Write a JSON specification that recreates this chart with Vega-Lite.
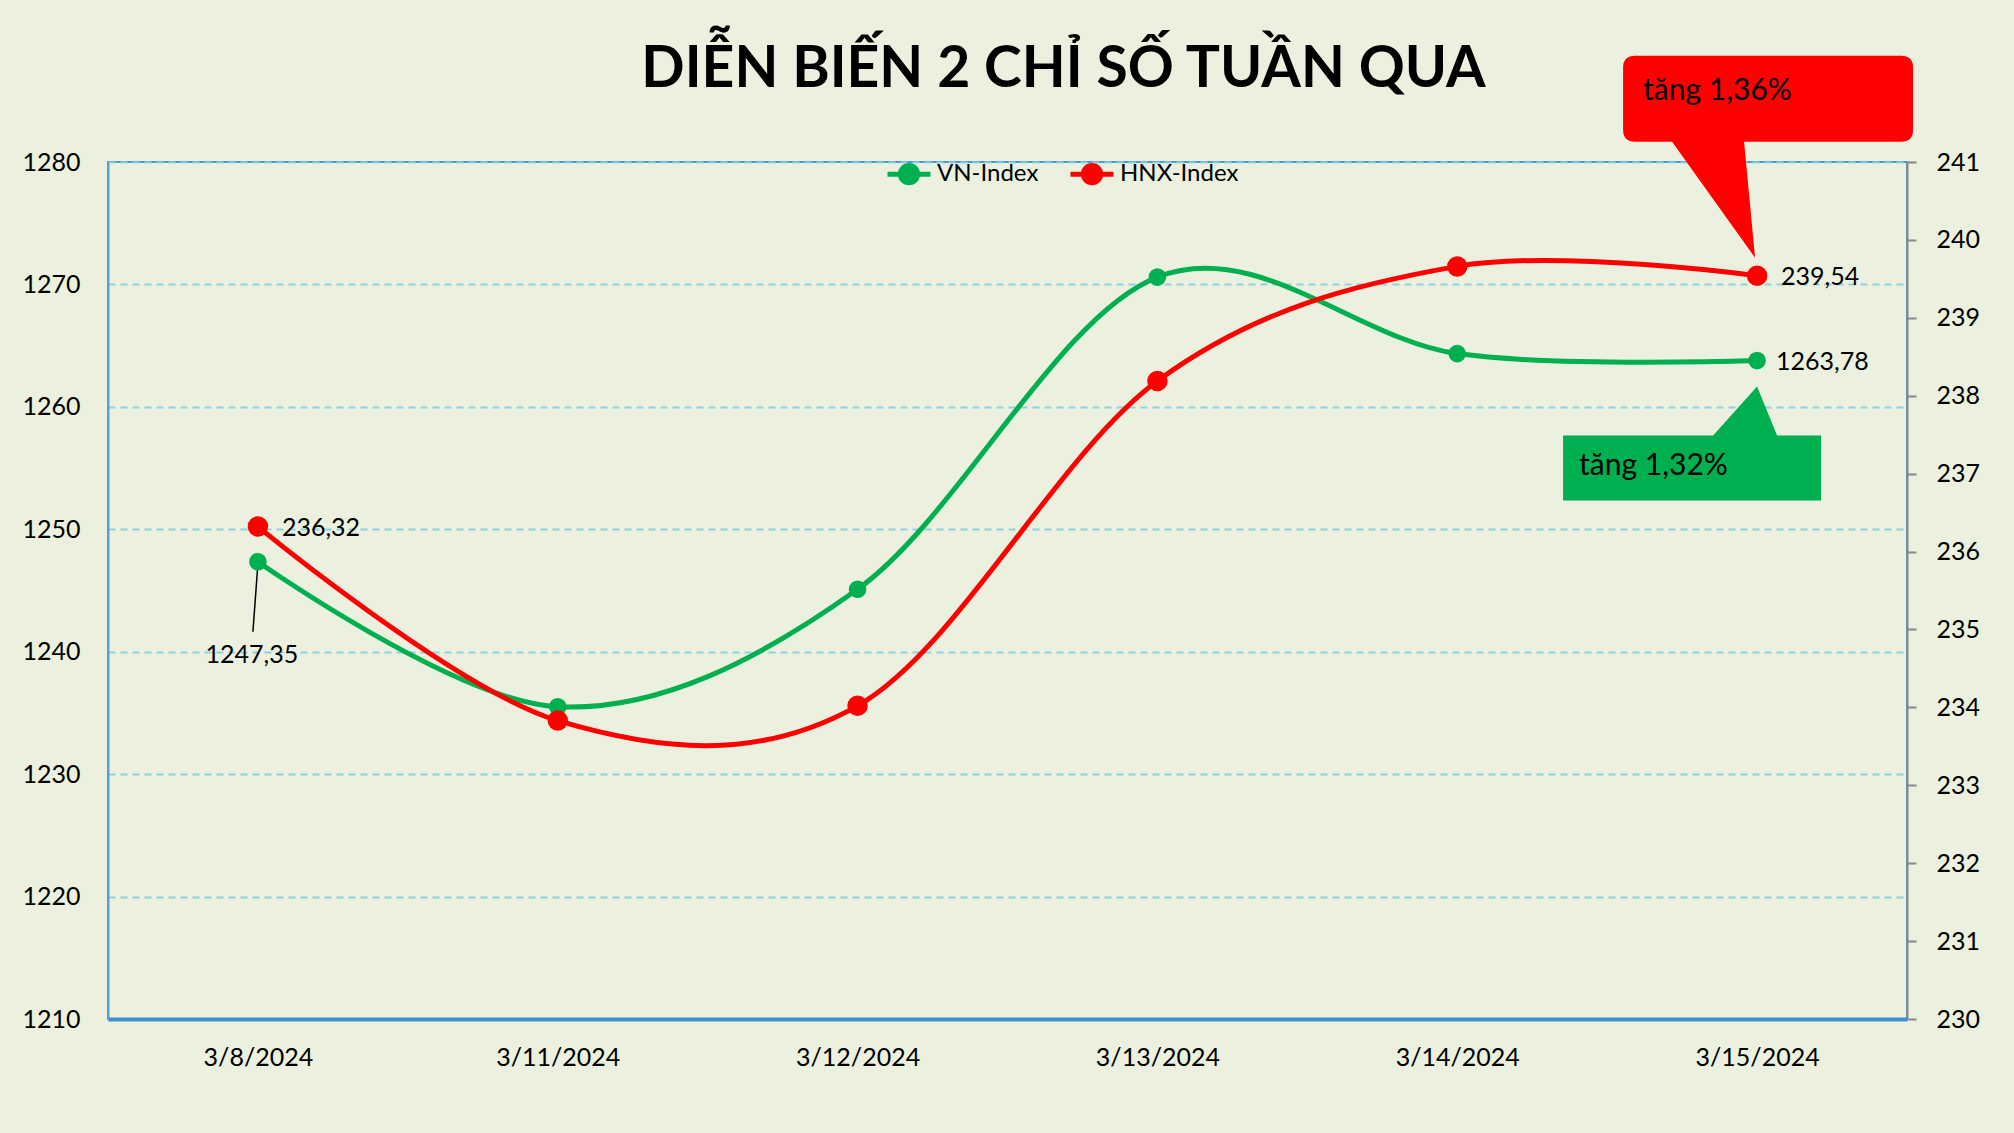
{
  "$schema": "https://vega.github.io/schema/vega-lite/v6.json",
  "width": 1799,
  "height": 857,
  "autosize": {"type": "none"},
  "padding": {"left": 108, "top": 162, "right": 107, "bottom": 114},
  "background": "#EBF1DE",
  "title": {
    "text": "DIỄN BIẾN 2 CHỈ SỐ TUẦN QUA",
    "font": "Lato",
    "fontSize": 57,
    "fontWeight": "bold",
    "color": "black",
    "anchor": "middle",
    "frame": "group",
    "baseline": "alphabetic",
    "offset": 0,
    "dy": 88,
    "dx": 56
  },
  "data": {
    "values": [
      {"date": "3/8/2024", "index": "VN-Index", "value": 1247.35},
      {"date": "3/11/2024", "index": "VN-Index", "value": 1235.5},
      {"date": "3/12/2024", "index": "VN-Index", "value": 1245.1},
      {"date": "3/13/2024", "index": "VN-Index", "value": 1270.6},
      {"date": "3/14/2024", "index": "VN-Index", "value": 1264.35},
      {"date": "3/15/2024", "index": "VN-Index", "value": 1263.78, "note": "tăng 1,32%"},
      {"date": "3/8/2024", "index": "HNX-Index", "value": 236.32},
      {"date": "3/11/2024", "index": "HNX-Index", "value": 233.83},
      {"date": "3/12/2024", "index": "HNX-Index", "value": 234.02},
      {"date": "3/13/2024", "index": "HNX-Index", "value": 238.19},
      {"date": "3/14/2024", "index": "HNX-Index", "value": 239.66},
      {"date": "3/15/2024", "index": "HNX-Index", "value": 239.54, "note": "tăng 1,36%"}
    ]
  },
  "encoding": {
    "x": {
      "field": "date",
      "type": "ordinal",
      "sort": null,
      "scale": {"type": "point", "padding": 0.5, "domain": ["3/8/2024", "3/11/2024", "3/12/2024", "3/13/2024", "3/14/2024", "3/15/2024"]},
      "axis": {
        "title": null,
        "labelAngle": 0,
        "labelFont": "Lato",
        "labelFontSize": 25,
        "labelColor": "black",
        "labelPadding": 26,
        "ticks": false,
        "grid": false,
        "domainColor": "#3D8FCB",
        "domainWidth": 4
      }
    }
  },
  "layer": [
    {
      "transform": [{"filter": "datum.index == 'VN-Index'"}],
      "encoding": {
        "y": {
          "field": "value",
          "type": "quantitative",
          "scale": {"domain": [1210, 1280], "zero": false, "nice": false},
          "axis": {
            "title": null,
            "orient": "left",
            "values": [1210, 1220, 1230, 1240, 1250, 1260, 1270, 1280],
            "format": "d",
            "labelFont": "Lato",
            "labelFontSize": 25,
            "labelColor": "black",
            "labelPadding": 28,
            "ticks": false,
            "grid": true,
            "gridColor": "#8FD0E3",
            "gridDash": [7, 5],
            "gridWidth": 2,
            "domainColor": "#5AA2D4",
            "domainWidth": 2
          }
        }
      },
      "layer": [
        {
          "transform": [{"filter": "datum.date == '3/15/2024'"}],
          "mark": {
            "type": "point",
            "shape": "M-194,75L-44,75L0,26L20,75L64,75L64,140L-194,140Z",
            "size": 4,
            "filled": true,
            "color": "#00B050",
            "opacity": 1,
            "strokeWidth": 0
          }
        },
        {
          "transform": [{"filter": "datum.date == '3/15/2024'"}],
          "mark": {
            "type": "text",
            "align": "left",
            "baseline": "alphabetic",
            "dx": -178,
            "dy": 114,
            "font": "Lato",
            "fontSize": 30,
            "color": "black"
          },
          "encoding": {"text": {"field": "note"}}
        },
        {
          "mark": {
            "type": "line",
            "interpolate": "cardinal",
            "tension": 0,
            "strokeWidth": 5
          },
          "encoding": {
            "color": {
              "field": "index",
              "type": "nominal",
              "scale": {"domain": ["VN-Index", "HNX-Index"], "range": ["#00B050", "#FF0000"]},
              "legend": {
                "title": null,
                "orient": "none",
                "direction": "horizontal",
                "legendX": 777,
                "legendY": -12,
                "padding": 0,
                "symbolType": "M-1,0L1,0M0.4,0C0.4,0.221,0.221,0.4,0,0.4C-0.221,0.4,-0.4,0.221,-0.4,0C-0.4,-0.221,-0.221,-0.4,0,-0.4C0.221,-0.4,0.4,-0.221,0.4,0Z",
                "symbolSize": 1849,
                "symbolStrokeWidth": 5,
                "labelFont": "Lato",
                "labelFontSize": 24,
                "labelColor": "black",
                "labelOffset": 4,
                "columnPadding": 21,
                "encode": {
                  "symbols": {
                    "update": {
                      "fill": {"scale": "color", "field": "value"},
                      "stroke": {"scale": "color", "field": "value"},
                      "opacity": {"value": 1}
                    }
                  }
                }
              }
            }
          }
        },
        {
          "transform": [{"filter": "datum.date == '3/8/2024'"}],
          "mark": {
            "type": "point",
            "shape": "M0,2L-5,70",
            "size": 4,
            "filled": false,
            "color": "black",
            "strokeWidth": 1.5,
            "opacity": 1
          }
        },
        {
          "mark": {"type": "point", "filled": true, "size": 310, "color": "#00B050", "opacity": 1}
        },
        {
          "transform": [{"filter": "datum.date == '3/15/2024'"}],
          "mark": {"type": "text", "align": "left", "baseline": "middle", "dx": 19, "dy": 1, "font": "Lato", "fontSize": 25, "color": "black"},
          "encoding": {"text": {"field": "value", "type": "quantitative", "format": ".2f"}}
        },
        {
          "transform": [{"filter": "datum.date == '3/8/2024'"}],
          "mark": {"type": "text", "align": "center", "baseline": "middle", "dx": -6, "dy": 93, "font": "Lato", "fontSize": 25, "color": "black"},
          "encoding": {"text": {"field": "value", "type": "quantitative", "format": ".2f"}}
        }
      ]
    },
    {
      "transform": [{"filter": "datum.index == 'HNX-Index'"}],
      "encoding": {
        "y": {
          "field": "value",
          "type": "quantitative",
          "scale": {"domain": [230, 241], "zero": false, "nice": false},
          "axis": {
            "title": null,
            "orient": "right",
            "values": [230, 231, 232, 233, 234, 235, 236, 237, 238, 239, 240, 241],
            "format": "d",
            "labelFont": "Lato",
            "labelFontSize": 25,
            "labelColor": "black",
            "labelPadding": 20,
            "ticks": true,
            "tickSize": 9,
            "tickColor": "#888888",
            "tickWidth": 2,
            "grid": false,
            "domainColor": "#888888",
            "domainWidth": 2
          }
        }
      },
      "layer": [
        {
          "transform": [{"filter": "datum.date == '3/15/2024'"}],
          "mark": {
            "type": "point",
            "shape": "M-122,-220L144,-220Q156,-220,156,-208L156,-146Q156,-134,144,-134L-13,-134L-2,-18L-85,-134L-122,-134Q-134,-134,-134,-146L-134,-208Q-134,-220,-122,-220Z",
            "size": 4,
            "filled": true,
            "color": "#FF0000",
            "opacity": 1,
            "strokeWidth": 0
          }
        },
        {
          "transform": [{"filter": "datum.date == '3/15/2024'"}],
          "mark": {
            "type": "text",
            "align": "left",
            "baseline": "alphabetic",
            "dx": -114,
            "dy": -176,
            "font": "Lato",
            "fontSize": 30,
            "color": "black"
          },
          "encoding": {"text": {"field": "note"}}
        },
        {
          "mark": {
            "type": "line",
            "interpolate": "cardinal",
            "tension": 0,
            "strokeWidth": 5,
            "color": "#FF0000"
          },
          "encoding": {}
        },
        {
          "mark": {"type": "point", "filled": true, "size": 420, "color": "#FF0000", "opacity": 1}
        },
        {
          "transform": [{"filter": "datum.date == '3/8/2024' || datum.date == '3/15/2024'"}],
          "mark": {"type": "text", "align": "left", "baseline": "middle", "dx": 24, "dy": 1, "font": "Lato", "fontSize": 25, "color": "black"},
          "encoding": {"text": {"field": "value", "type": "quantitative", "format": ".2f"}}
        }
      ]
    }
  ],
  "resolve": {"scale": {"y": "independent"}},
  "config": {
    "view": {"stroke": "#4A9CD3", "strokeWidth": 2},
    "locale": {
      "number": {"decimal": ",", "thousands": ".", "grouping": [3], "currency": ["", " ₫"]}
    }
  }
}
